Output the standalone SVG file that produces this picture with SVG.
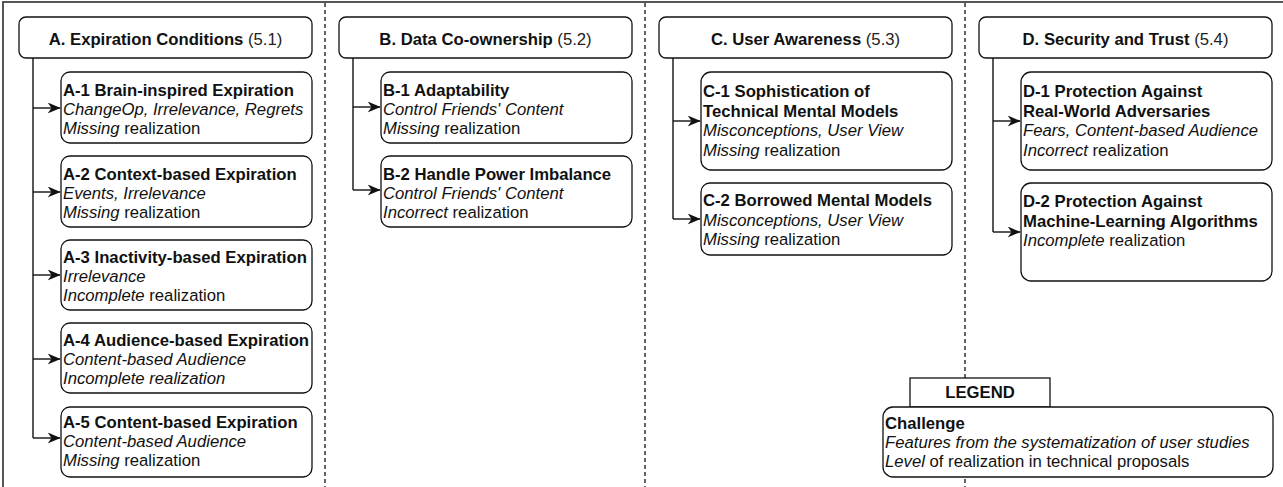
<svg xmlns="http://www.w3.org/2000/svg" width="1283" height="487" viewBox="0 0 1283 487">
<style>
text{font-family:"Liberation Sans",Arial,Helvetica,sans-serif;font-size:16.7px;fill:#111}
.b{font-weight:bold}
.i{font-style:italic}
.n{font-weight:normal;fill:#222}
.box{fill:#fff;stroke:#111;stroke-width:1.3}
.div{stroke:#222;stroke-width:1.4;stroke-dasharray:4 3;fill:none}
.con{stroke:#111;stroke-width:1.4;fill:none}
.hd{text-anchor:middle}
</style>
<defs>
<marker id="arr" viewBox="0 0 10 10" refX="9.5" refY="5" markerWidth="13" markerHeight="11" markerUnits="userSpaceOnUse" orient="auto" preserveAspectRatio="none">
<path d="M0,0 L10,5 L0,10 L3,5 z" fill="#111"/>
</marker>
</defs>
<rect x="3" y="2" width="1300" height="520" fill="#fff" stroke="#444" stroke-width="1.8"/>
<g id="dividers">
<line class="div" x1="325" y1="3" x2="325" y2="487"/>
<line class="div" x1="645" y1="3" x2="645" y2="487"/>
<line class="div" x1="965" y1="3" x2="965" y2="487"/>
</g>
<g id="connectors">
<path class="con" d="M33,58 V438"/>
<path class="con" d="M33,108 H60" marker-end="url(#arr)"/>
<path class="con" d="M33,192 H60" marker-end="url(#arr)"/>
<path class="con" d="M33,275 H60" marker-end="url(#arr)"/>
<path class="con" d="M33,359 H60" marker-end="url(#arr)"/>
<path class="con" d="M33,438 H60" marker-end="url(#arr)"/>
<path class="con" d="M353,58 V190"/>
<path class="con" d="M353,107 H380" marker-end="url(#arr)"/>
<path class="con" d="M353,190 H380" marker-end="url(#arr)"/>
<path class="con" d="M673,58 V219"/>
<path class="con" d="M673,121 H700" marker-end="url(#arr)"/>
<path class="con" d="M673,219 H700" marker-end="url(#arr)"/>
<path class="con" d="M993,58 V232"/>
<path class="con" d="M993,121 H1020" marker-end="url(#arr)"/>
<path class="con" d="M993,232 H1020" marker-end="url(#arr)"/>
</g>
<g id="headerA"><rect class="box" x="19" y="17" width="293" height="41" rx="7"/><text class="hd b" x="165.5" y="45">A. Expiration Conditions <tspan class="n">(5.1)</tspan></text></g>
<g id="headerB"><rect class="box" x="339" y="17" width="293" height="41" rx="7"/><text class="hd b" x="485.5" y="45">B. Data Co-ownership <tspan class="n">(5.2)</tspan></text></g>
<g id="headerC"><rect class="box" x="659" y="17" width="293" height="41" rx="7"/><text class="hd b" x="805.5" y="45">C. User Awareness <tspan class="n">(5.3)</tspan></text></g>
<g id="headerD"><rect class="box" x="979" y="17" width="293" height="41" rx="7"/><text class="hd b" x="1125.5" y="45">D. Security and Trust <tspan class="n">(5.4)</tspan></text></g>

<g id="A1"><rect class="box" x="61" y="72" width="251" height="71" rx="9"/>
<text x="63" y="96" class="b">A-1 Brain-inspired Expiration</text>
<text x="63" y="115" class="i">ChangeOp, Irrelevance, Regrets</text>
<text x="63" y="134"><tspan class="i">Missing</tspan> realization</text></g>
<g id="A2"><rect class="box" x="61" y="156" width="251" height="71" rx="9"/>
<text x="63" y="180" class="b">A-2 Context-based Expiration</text>
<text x="63" y="199" class="i">Events, Irrelevance</text>
<text x="63" y="218"><tspan class="i">Missing</tspan> realization</text></g>
<g id="A3"><rect class="box" x="61" y="240" width="251" height="70" rx="9"/>
<text x="63" y="263" class="b">A-3 Inactivity-based Expiration</text>
<text x="63" y="282" class="i">Irrelevance</text>
<text x="63" y="301"><tspan class="i">Incomplete</tspan> realization</text></g>
<g id="A4"><rect class="box" x="61" y="323" width="251" height="70" rx="9"/>
<text x="63" y="346" class="b">A-4 Audience-based Expiration</text>
<text x="63" y="365" class="i">Content-based Audience</text>
<text x="63" y="384" class="i">Incomplete realization</text></g>
<g id="A5"><rect class="box" x="61" y="407" width="251" height="70" rx="9"/>
<text x="63" y="428" class="b">A-5 Content-based Expiration</text>
<text x="63" y="447" class="i">Content-based Audience</text>
<text x="63" y="466"><tspan class="i">Missing</tspan> realization</text></g>

<g id="B1"><rect class="box" x="381" y="72" width="251" height="71" rx="9"/>
<text x="383" y="96" class="b">B-1 Adaptability</text>
<text x="383" y="115" class="i">Control Friends' Content</text>
<text x="383" y="134"><tspan class="i">Missing</tspan> realization</text></g>
<g id="B2"><rect class="box" x="381" y="156" width="251" height="71" rx="9"/>
<text x="383" y="180" class="b">B-2 Handle Power Imbalance</text>
<text x="383" y="199" class="i">Control Friends' Content</text>
<text x="383" y="218"><tspan class="i">Incorrect</tspan> realization</text></g>

<g id="C1"><rect class="box" x="701" y="72" width="251" height="98" rx="10"/>
<text x="703" y="97" class="b">C-1 Sophistication of</text>
<text x="703" y="116.5" class="b">Technical Mental Models</text>
<text x="703" y="136" class="i">Misconceptions, User View</text>
<text x="703" y="155.5"><tspan class="i">Missing</tspan> realization</text></g>
<g id="C2"><rect class="box" x="701" y="183" width="251" height="72" rx="9"/>
<text x="703" y="206" class="b">C-2 Borrowed Mental Models</text>
<text x="703" y="225.5" class="i">Misconceptions, User View</text>
<text x="703" y="245"><tspan class="i">Missing</tspan> realization</text></g>

<g id="D1"><rect class="box" x="1021" y="72" width="251" height="98" rx="10"/>
<text x="1023" y="97" class="b">D-1 Protection Against</text>
<text x="1023" y="116.5" class="b">Real-World Adversaries</text>
<text x="1023" y="136" class="i">Fears, Content-based Audience</text>
<text x="1023" y="155.5"><tspan class="i">Incorrect</tspan> realization</text></g>
<g id="D2"><rect class="box" x="1021" y="183" width="251" height="98" rx="10"/>
<text x="1023" y="207" class="b">D-2 Protection Against</text>
<text x="1023" y="226.5" class="b">Machine-Learning Algorithms</text>
<text x="1023" y="246"><tspan class="i">Incomplete</tspan> realization</text></g>

<g id="legend">
<rect x="910" y="378" width="140" height="29" fill="#fff" stroke="#111" stroke-width="1.3"/>
<text class="hd b" x="980" y="398">LEGEND</text>
<rect class="box" x="883" y="407" width="390" height="70" rx="10"/>
<text x="885" y="429" class="b">Challenge</text>
<text x="885" y="448" class="i">Features from the systematization of user studies</text>
<text x="885" y="467"><tspan class="i">Level</tspan> of realization in technical proposals</text>
</g>
</svg>
